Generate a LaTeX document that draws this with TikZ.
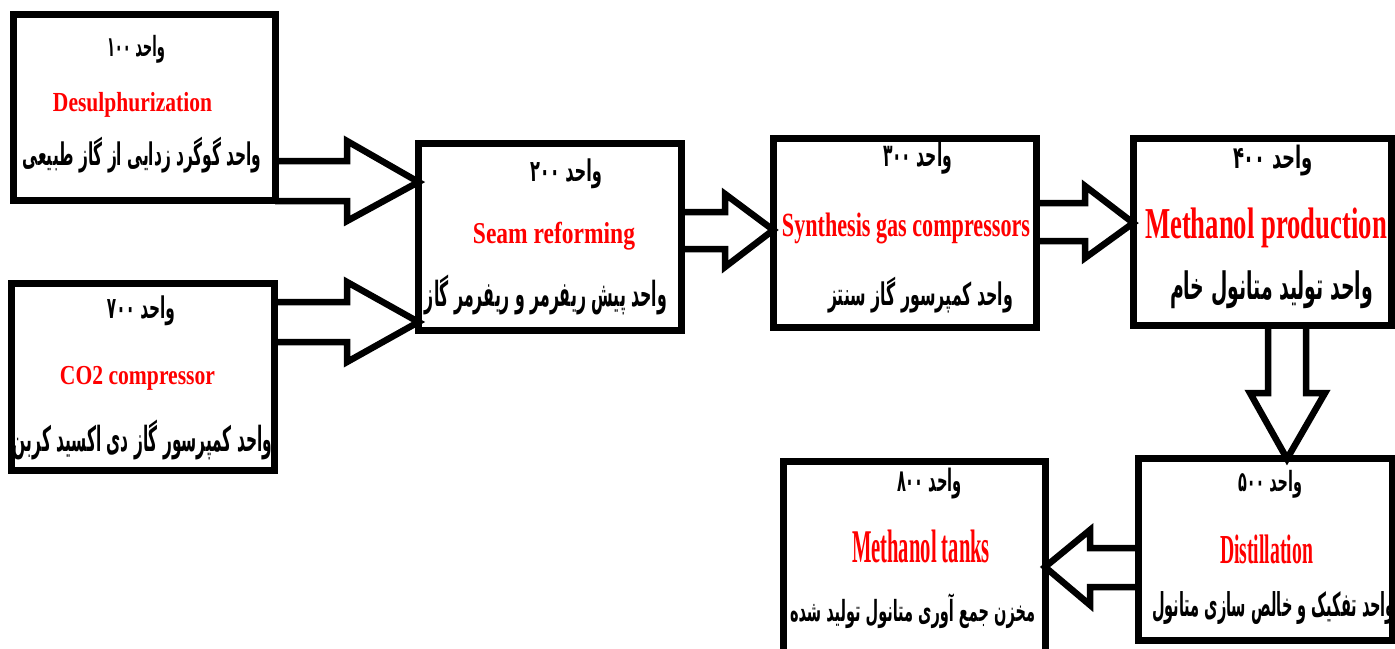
\documentclass[tikz,border=0pt]{standalone}
\usepackage{fontspec}
\usepackage{graphicx}
\setmainfont{Liberation Serif}
\newfontfamily\pfont[Script=Arabic]{DejaVu Sans}
\TeXXeTstate=1
\newcommand\fatext[3]{\resizebox*{#1pt}{#2pt}{\pfont\bfseries #3}}
\newcommand\entext[3]{\resizebox*{#1pt}{#2pt}{\bfseries #3}}
\tikzset{
  box/.style={draw, line width=7pt, rectangle, inner sep=0pt, outer sep=0pt},
  blockarrow/.style={draw, line width=6.5pt, line join=miter, miter limit=4},
  lbl/.style={inner sep=0pt, outer sep=0pt, anchor=center},
  enlbl/.style={lbl, text=red}
}
\begin{document}
\begin{tikzpicture}[x=1pt,y=-1pt]
\useasboundingbox (0,0) rectangle (1395,648);
\clip (0,0) rectangle (1395,648);
\fill[white] (0,0) rectangle (1395,648);
% boxes
\node[box, minimum width=261.5pt, minimum height=186.5pt] (b100) at (144.25,107.25) {};
\node[box, minimum width=262.5pt, minimum height=187pt] (b700) at (142.75,376.5) {};
\node[box, minimum width=263.2pt, minimum height=186.7pt] (b200) at (550.1,236.65) {};
\node[box, minimum width=262.7pt, minimum height=188.2pt] (b300) at (904.65,232.9) {};
\node[box, minimum width=257.7pt, minimum height=187.2pt] (b400) at (1262.15,231.9) {};
\node[box, minimum width=253.7pt, minimum height=181.2pt] (b500) at (1265.15,549.4) {};
\node[box, minimum width=262pt, minimum height=191pt] (b800) at (914,556.5) {};
% labels box 100
\node[lbl] (t100a) at (136,49) {\fatext{58}{28}{\beginR واحد ۱۰۰\endR}};
\node[enlbl] (t100b) at (132.5,105) {\entext{159}{25}{Desulphurization}};
\node[lbl] (t100c) at (142,155) {\fatext{239}{36}{\beginR واحد گوگرد زدایی از گاز طبیعی\endR}};
% labels box 700
\node[lbl] (t700a) at (141,311) {\fatext{68}{30}{\beginR واحد ۷۰۰\endR}};
\node[enlbl] (t700b) at (137.5,378.5) {\entext{155}{24}{CO2 compressor}};
\node[lbl] (t700c) at (142.5,439.5) {\fatext{259}{40}{\beginR واحد کمپرسور گاز دی اکسید کربن\endR}};
% labels box 200
\node[lbl] (t200a) at (566,173.5) {\fatext{72}{30}{\beginR واحد ۲۰۰\endR}};
\node[enlbl] (t200b) at (554,236.5) {\entext{162}{28}{Seam reforming}};
\node[lbl] (t200c) at (546,294.5) {\fatext{242}{40}{\beginR واحد پیش ریفرمر و ریفرمر گاز\endR}};
% labels box 300
\node[lbl] (t300a) at (917.5,158) {\fatext{69}{32}{\beginR واحد ۳۰۰\endR}};
\node[enlbl] (t300b) at (906,228) {\entext{248}{31}{Synthesis gas compressors}};
\node[lbl] (t300c) at (920.5,295) {\fatext{185}{36}{\beginR واحد کمپرسور گاز سنتز\endR}};
% labels box 400
\node[lbl] (t400a) at (1273,161) {\fatext{80}{31}{\beginR واحد ۴۰۰\endR}};
\node[enlbl] (t400b) at (1266,228) {\entext{242}{40}{Methanol production}};
\node[lbl] (t400c) at (1271.5,290) {\fatext{203}{38}{\beginR واحد تولید متانول خام\endR}};
% labels box 500
\node[lbl] (t500a) at (1270,484.5) {\fatext{64}{28}{\beginR واحد ۵۰۰\endR}};
\node[enlbl] (t500b) at (1266.5,549) {\entext{93}{29}{Distillation}};
\node[lbl] (t500c) at (1273.5,608.5) {\fatext{243}{33}{\beginR واحد تفکیک و خالص سازی متانول\endR}};
% labels box 800
\node[lbl] (t800a) at (929.5,484) {\fatext{65}{31}{\beginR واحد ۸۰۰\endR}};
\node[enlbl] (t800b) at (921,546) {\entext{138}{33}{Methanol tanks}};
\node[lbl] (t800c) at (912.5,611) {\fatext{245}{35}{\beginR مخزن جمع آوری متانول تولید شده\endR}};
% block arrows
\draw[blockarrow] ([yshift=-53.75pt]b100.east) -- (347,161) -- (347,141)
  -- ([yshift=54.65pt]b200.west) -- (347,221) -- (347,201) -- ([yshift=-93.75pt]b100.east);
\draw[blockarrow] ([yshift=74.5pt]b700.east) -- (347,302) -- (347,282)
  -- ([yshift=-85.35pt]b200.west) -- (347,362) -- (347,342) -- ([yshift=34.5pt]b700.east);
\draw[blockarrow] ([yshift=24.65pt]b200.east) -- (725,212) -- (725,194)
  -- ([yshift=2.9pt]b300.west) -- (725,267) -- (725,249) -- ([yshift=-12.35pt]b200.east);
\draw[blockarrow] ([yshift=29.9pt]b300.east) -- (1085,203) -- (1085,186)
  -- ([yshift=8.9pt]b400.west) -- (1085,258) -- (1085,241) -- ([yshift=-8.1pt]b300.east);
\draw[blockarrow] ([xshift=5.85pt]b400.south) -- (1268,393) -- (1250,393)
  -- ([xshift=21.85pt]b500.north) -- (1325,393) -- (1306,393) -- ([xshift=43.85pt]b400.south);
\draw[blockarrow] ([yshift=1.4pt]b500.west) -- (1090,548) -- (1090,530)
  -- ([yshift=-10.5pt]b800.east) -- (1090,605) -- (1090,587) -- ([yshift=-37.6pt]b500.west);
\end{tikzpicture}
\end{document}
